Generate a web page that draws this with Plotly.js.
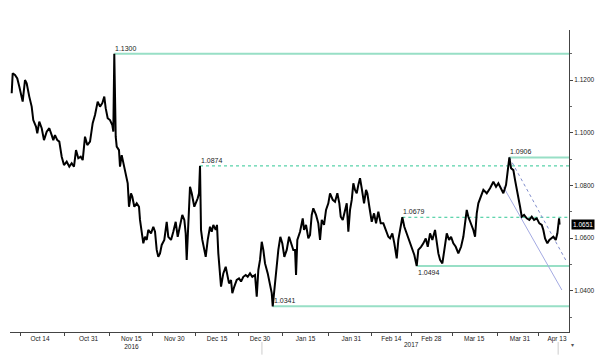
<!DOCTYPE html>
<html>
<head>
<meta charset="utf-8">
<script src="https://cdn.plot.ly/plotly-3.0.1.min.js"></script>
<style>html,body{margin:0;padding:0;background:#fff;}#chart{width:600px;height:362px;}</style>
</head>
<body>
<div id="chart"></div>
<script>
// x values: days since 2016-10-14
const priceDays = [-9.91,-9.56,-8.75,-7.95,-7.25,-6.06,-5.25,-4.66,-3.75,-2.91,-2.35,-1.40,-0.95,-0.25,0.60,1.40,2.35,3.26,4.10,4.66,5.25,6.06,6.76,7.60,8.40,9.35,10.26,11.10,11.90,12.61,13.41,14.25,14.95,15.76,16.56,17.51,18.45,19.26,20.20,21.01,21.81,22.51,23.00,23.70,24.51,25.32,25.67,26.01,26.51,26.86,27.66,28.01,28.61,29.17,29.76,30.71,31.16,31.86,32.32,33.02,33.86,34.66,35.01,35.61,36.17,36.76,37.36,37.92,38.87,39.67,40.27,40.86,41.42,42.02,42.61,43.52,44.36,44.92,45.87,46.67,47.51,48.21,49.02,49.82,50.53,51.01,51.36,51.93,52.52,53.12,54.03,55.22,55.67,56.02,56.37,56.83,57.53,58.02,58.72,59.52,60.12,60.68,61.52,61.97,62.43,63.03,63.38,64.18,65.02,65.72,66.18,66.88,67.33,68.03,68.87,69.68,70.38,71.18,72.02,72.72,73.53,74.33,75.28,75.88,76.44,77.03,77.63,78.19,78.78,79.73,80.53,81.13,81.48,82.28,82.88,83.44,84.14,84.84,85.54,86.38,87.19,87.89,88.69,89.29,89.64,90.09,91.04,91.98,92.44,93.14,93.94,94.54,95.13,95.69,96.64,97.44,98.04,98.64,99.44,100.14,100.94,101.54,102.49,103.29,104.10,104.80,105.29,105.99,106.79,107.39,107.95,108.54,109.14,109.70,110.29,110.89,111.45,112.04,112.64,113.45,114.15,114.60,115.30,116.14,116.95,117.65,118.45,119.29,120.20,121.15,121.95,122.55,123.35,124.05,124.89,125.45,126.40,126.85,127.55,128.39,129.20,130.14,131.05,131.89,132.45,133.40,134.21,135.05,135.75,136.55,137.36,138.30,138.90,139.46,140.06,140.86,141.56,142.40,143.21,143.91,144.71,145.55,146.46,147.41,148.21,148.81,149.40,149.96,150.91,151.71,152.31,152.90,153.46,154.41,155.22,156.41,157.56,158.72,159.66,160.47,161.31,162.22,163.16,163.62,164.32,164.92,165.72,166.32,166.91,167.47,168.07,168.66,169.47,170.41,171.32,172.16,172.97,173.91,174.82,175.66,176.22,176.82,177.62,178.32,179.16,179.72,180.57,181.13,181.73,181.90];
const priceValues = [1.1150,1.1225,1.1219,1.1206,1.1175,1.1118,1.1200,1.1187,1.1137,1.1099,1.1048,1.1023,1.0998,1.1042,1.1017,1.0972,1.1004,1.1017,1.0991,1.0972,1.0991,1.0972,1.0966,1.0909,1.0877,1.0890,1.0871,1.0884,1.0871,1.0934,1.0903,1.0909,1.0896,1.0985,1.0953,1.0966,1.1036,1.1067,1.1118,1.1099,1.1112,1.1137,1.1093,1.1055,1.1048,1.1029,1.1004,1.1300,1.0985,1.0947,1.0934,1.0871,1.0915,1.0884,1.0846,1.0808,1.0719,1.0770,1.0757,1.0719,1.0732,1.0719,1.0669,1.0618,1.0580,1.0605,1.0593,1.0631,1.0618,1.0643,1.0624,1.0555,1.0529,1.0542,1.0574,1.0593,1.0662,1.0605,1.0593,1.0624,1.0662,1.0605,1.0643,1.0688,1.0669,1.0618,1.0517,1.0669,1.0795,1.0770,1.0719,1.0751,1.0770,1.0874,1.0631,1.0593,1.0555,1.0529,1.0593,1.0643,1.0624,1.0650,1.0631,1.0650,1.0542,1.0466,1.0416,1.0466,1.0491,1.0453,1.0428,1.0441,1.0391,1.0416,1.0441,1.0447,1.0435,1.0453,1.0460,1.0453,1.0466,1.0453,1.0460,1.0378,1.0479,1.0517,1.0586,1.0555,1.0504,1.0466,1.0428,1.0391,1.0341,1.0428,1.0504,1.0555,1.0605,1.0580,1.0529,1.0555,1.0605,1.0580,1.0555,1.0555,1.0460,1.0593,1.0624,1.0675,1.0631,1.0650,1.0599,1.0612,1.0688,1.0713,1.0688,1.0656,1.0593,1.0669,1.0650,1.0707,1.0732,1.0770,1.0745,1.0738,1.0770,1.0732,1.0681,1.0669,1.0707,1.0732,1.0624,1.0707,1.0745,1.0808,1.0783,1.0770,1.0802,1.0827,1.0789,1.0732,1.0783,1.0770,1.0719,1.0662,1.0694,1.0656,1.0700,1.0656,1.0656,1.0631,1.0605,1.0599,1.0618,1.0580,1.0523,1.0593,1.0656,1.0679,1.0643,1.0618,1.0593,1.0567,1.0536,1.0494,1.0555,1.0567,1.0580,1.0599,1.0567,1.0618,1.0593,1.0631,1.0580,1.0542,1.0517,1.0504,1.0555,1.0618,1.0593,1.0605,1.0580,1.0567,1.0542,1.0567,1.0605,1.0669,1.0707,1.0681,1.0656,1.0631,1.0605,1.0694,1.0732,1.0757,1.0783,1.0770,1.0789,1.0814,1.0795,1.0808,1.0789,1.0770,1.0802,1.0839,1.0906,1.0865,1.0858,1.0820,1.0789,1.0751,1.0719,1.0681,1.0688,1.0675,1.0669,1.0681,1.0669,1.0675,1.0656,1.0650,1.0631,1.0599,1.0580,1.0593,1.0599,1.0605,1.0593,1.0618,1.0675,1.0651];

// horizontal levels: value, start day, style
const levelValues = [1.1300, 1.0874, 1.0906, 1.0679, 1.0494, 1.0341];
const levelStartDays = [26.01, 56.02, 164.32, 126.85, 131.89, 81.48];
const levelDashed = [false, true, false, true, false, false];
const levelLabelBelow = [false, false, false, false, true, false];

// falling channel lines
const channelDashedDays = [164.32, 184.4];
const channelDashedValues = [1.0906, 1.0510];
const channelSolidDays = [162.2, 182.7];
const channelSolidValues = [1.0795, 1.0403];

// x-axis tick labels
const tickDays = [0, 17, 32, 47, 62, 77, 93, 109, 123, 137, 152, 168, 181];
const tickLabels = ['Oct 14', 'Oct 31', 'Nov 15<br>2016', 'Nov 30', 'Dec 15', 'Dec 30', 'Jan 15', 'Jan 31', 'Feb 14', 'Feb 28', 'Mar 15', 'Mar 31', 'Apr 13'];
const yearLabel2017Day = 130;
const lastValue = priceValues[priceValues.length - 1];

const X_MIN = -10.5, X_MAX = 185.2;
const FONT = 'Liberation Sans, Arial, sans-serif';

const traces = [];
levelValues.forEach((v, i) => {
  const dashed = levelDashed[i];
  traces.push({
    type: 'scatter', mode: 'lines', x: [levelStartDays[i], X_MAX], y: [v, v],
    line: dashed ? {color: '#2fc895', width: 1, dash: '3px,3px'} : {color: '#98dfc6', width: 2},
    hoverinfo: 'skip', showlegend: false
  });
});
traces.push({type: 'scatter', mode: 'lines', x: channelSolidDays, y: channelSolidValues,
  line: {color: '#a4aae2', width: 1}, showlegend: false, hoverinfo: 'skip'});
traces.push({type: 'scatter', mode: 'lines', x: channelDashedDays, y: channelDashedValues,
  line: {color: '#7f8ccc', width: 1, dash: '3px,3px'}, showlegend: false, hoverinfo: 'skip'});
traces.push({type: 'scatter', mode: 'lines', x: priceDays, y: priceValues,
  line: {color: '#000', width: 2}, showlegend: false});
// minor tick marks between labels (on overlay axis)
const midTicks = [tickDays[0] - 7];
for (let i = 0; i < tickDays.length - 1; i++) midTicks.push((tickDays[i] + tickDays[i + 1]) / 2);
traces.push({type: 'scatter', mode: 'markers', x: [X_MIN], y: [levelValues[0]], xaxis: 'x2',
  marker: {opacity: 0}, showlegend: false, hoverinfo: 'skip'});

const annotations = levelValues.map((v, i) => ({
  x: levelStartDays[i], y: v, xref: 'x', yref: 'y', text: v.toFixed(4),
  showarrow: false, xanchor: 'left', yanchor: levelLabelBelow[i] ? 'top' : 'bottom',
  xshift: -1, yshift: levelLabelBelow[i] ? -1 : 0,
  font: {family: FONT, size: 7, color: '#222'}
}));
annotations.push({x: yearLabel2017Day, y: 0, xref: 'x', yref: 'paper', yanchor: 'top', yshift: -7,
  text: '2017', showarrow: false, font: {family: FONT, size: 6.5, color: '#222'}});
annotations.push({x: 1, xref: 'paper', y: lastValue, yref: 'y', xanchor: 'left', xshift: 2,
  text: lastValue.toFixed(4), showarrow: false, bgcolor: '#000', borderpad: 1,
  font: {family: FONT, size: 6.5, color: '#fff'}});
annotations.push({x: 1, xref: 'paper', y: 0, yref: 'paper', xanchor: 'left', yanchor: 'top', xshift: 0, yshift: -8,
  text: '▾', showarrow: false, font: {family: FONT, size: 6, color: '#555'}});

const layout = {
  width: 600, height: 362,
  margin: {l: 10, r: 31, t: 30, b: 30},
  paper_bgcolor: '#fff', plot_bgcolor: '#fff',
  showlegend: false,
  xaxis: {
    range: [X_MIN, X_MAX], showgrid: false, zeroline: false,
    showline: true, linecolor: '#444', linewidth: 1,
    tickmode: 'array', tickvals: tickDays, ticktext: tickLabels,
    ticks: '', tickfont: {family: FONT, size: 6.5, color: '#222'}
  },
  xaxis2: {
    overlaying: 'x', anchor: 'y', side: 'bottom', range: [X_MIN, X_MAX],
    showgrid: false, zeroline: false, showline: false,
    tickmode: 'array', tickvals: midTicks, ticks: 'outside', ticklen: 3, tickcolor: '#444',
    showticklabels: false
  },
  yaxis: {
    range: [1.02436, 1.13898], side: 'right', showgrid: false, zeroline: false,
    showline: true, linecolor: '#444', linewidth: 1,
    tickmode: 'array', tickvals: [1.04, 1.06, 1.08, 1.10, 1.12], tickformat: '.4f',
    ticks: 'outside', ticklen: 3, tickcolor: '#444',
    minor: {tickmode: 'array', tickvals: [1.03, 1.05, 1.07, 1.09, 1.11, 1.13], ticks: 'outside', ticklen: 2, tickcolor: '#666'},
    tickfont: {family: FONT, size: 6.5, color: '#222'}
  },
  shapes: [
    {type: 'line', xref: 'x', yref: 'paper', x0: 77.7, x1: 77.7, y0: -0.033, y1: -0.075, line: {color: '#ccc', width: 1}},
    {type: 'line', xref: 'x', yref: 'paper', x0: 181.4, x1: 181.4, y0: -0.033, y1: -0.075, line: {color: '#ccc', width: 1}}
  ],
  annotations: annotations
};

Plotly.newPlot('chart', traces, layout, {displayModeBar: false, staticPlot: true});
</script>
</body>
</html>
